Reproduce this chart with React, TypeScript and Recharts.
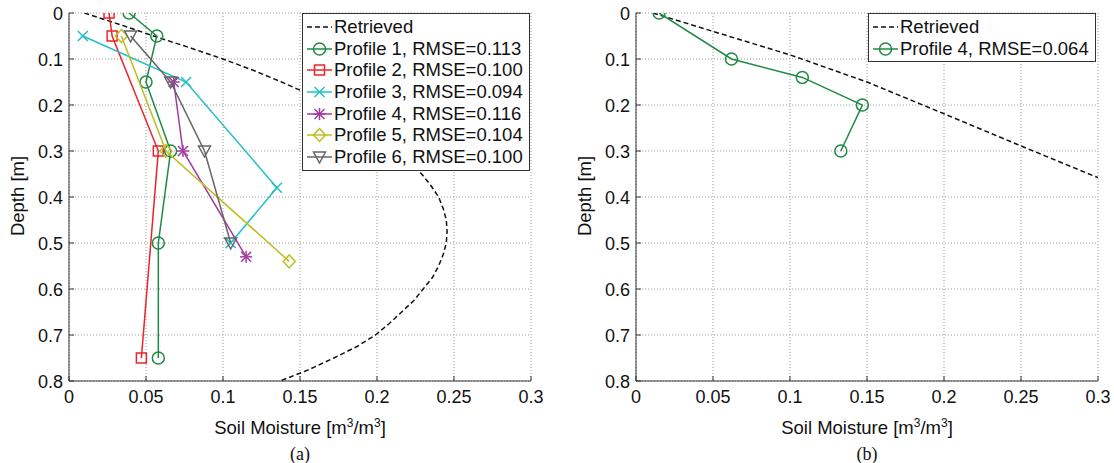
import React from "react";
import { ScatterChart, Scatter, XAxis, YAxis, CartesianGrid } from "recharts";

// ---- values (moisture in m3/m3, depth in m) ----
const xTicks = [0, 0.05, 0.1, 0.15, 0.2, 0.25, 0.3];
const yTicks = [0, 0.1, 0.2, 0.3, 0.4, 0.5, 0.6, 0.7, 0.8];

// (a) retrieved profile
const retrievedADepth = [
  0, 0.025, 0.05, 0.075, 0.1, 0.125, 0.15, 0.175, 0.2, 0.225, 0.25, 0.275, 0.3, 0.325, 0.35, 0.375, 0.4,
  0.425, 0.45, 0.475, 0.5, 0.525, 0.55, 0.575, 0.6, 0.625, 0.65, 0.675, 0.7, 0.725, 0.75, 0.775, 0.8,
];
const retrievedAMoisture = [
  0.01, 0.033, 0.055, 0.078, 0.1, 0.12, 0.138, 0.155, 0.17, 0.183, 0.195, 0.205, 0.214, 0.222, 0.229, 0.235, 0.24,
  0.243, 0.245, 0.2455, 0.245, 0.243, 0.24, 0.236, 0.23, 0.224, 0.216, 0.208, 0.199, 0.187, 0.172, 0.156, 0.137,
];

const p1Depth = [0, 0.05, 0.15, 0.3, 0.5, 0.75];
const p1Moisture = [0.039, 0.057, 0.05, 0.066, 0.058, 0.058];
const p2Depth = [0, 0.05, 0.3, 0.75];
const p2Moisture = [0.026, 0.028, 0.058, 0.047];
const p3Depth = [0.05, 0.15, 0.38, 0.5];
const p3Moisture = [0.009, 0.076, 0.135, 0.105];
const p4Depth = [0.15, 0.3, 0.53];
const p4Moisture = [0.068, 0.074, 0.115];
const p5Depth = [0.05, 0.3, 0.54];
const p5Moisture = [0.034, 0.063, 0.143];
const p6Depth = [0.05, 0.15, 0.3, 0.5];
const p6Moisture = [0.04, 0.066, 0.088, 0.105];

// (b) retrieved profile and profile 4
const retrievedBDepth = [0, 0.04, 0.091, 0.15, 0.219, 0.289, 0.358];
const retrievedBMoisture = [0.011, 0.05, 0.1, 0.15, 0.2, 0.25, 0.3];
const bP4Depth = [0, 0.1, 0.14, 0.2, 0.3];
const bP4Moisture = [0.015, 0.062, 0.108, 0.147, 0.133];

const zip = (xs: number[], ys: number[]) => xs.map((x, i) => ({ x, y: ys[i] }));

type Kind = "none" | "circle" | "square" | "x" | "star" | "diamond" | "tri";

const marker = (kind: Kind, cx: number, cy: number, c: string) => {
  const sw = 1.5;
  switch (kind) {
    case "circle":
      return <circle cx={cx} cy={cy} r={6} fill="none" stroke={c} strokeWidth={sw} />;
    case "square":
      return <rect x={cx - 5} y={cy - 5} width={10} height={10} fill="none" stroke={c} strokeWidth={sw} />;
    case "x":
      return (
        <g stroke={c} strokeWidth={sw}>
          <line x1={cx - 5} y1={cy - 5} x2={cx + 5} y2={cy + 5} />
          <line x1={cx - 5} y1={cy + 5} x2={cx + 5} y2={cy - 5} />
        </g>
      );
    case "star":
      return (
        <g stroke={c} strokeWidth={sw}>
          <line x1={cx - 5} y1={cy - 5} x2={cx + 5} y2={cy + 5} />
          <line x1={cx - 5} y1={cy + 5} x2={cx + 5} y2={cy - 5} />
          <line x1={cx} y1={cy - 6} x2={cx} y2={cy + 6} />
          <line x1={cx - 6} y1={cy} x2={cx + 6} y2={cy} />
        </g>
      );
    case "diamond":
      return (
        <polygon
          points={`${cx},${cy - 6.5} ${cx + 6},${cy} ${cx},${cy + 6.5} ${cx - 6},${cy}`}
          fill="none"
          stroke={c}
          strokeWidth={sw}
        />
      );
    case "tri":
      return (
        <polygon
          points={`${cx - 6},${cy - 5} ${cx + 6},${cy - 5} ${cx},${cy + 6}`}
          fill="none"
          stroke={c}
          strokeWidth={sw}
        />
      );
    default:
      return <g />;
  }
};

interface Series {
  name: string;
  data: { x: number; y: number }[];
  color: string;
  kind: Kind;
  dash?: string;
}

const seriesA: Series[] = [
  { name: "Retrieved", data: zip(retrievedAMoisture, retrievedADepth), color: "#111", kind: "none", dash: "5 3" },
  { name: "Profile 1, RMSE=0.113", data: zip(p1Moisture, p1Depth), color: "#1f8a45", kind: "circle" },
  { name: "Profile 2, RMSE=0.100", data: zip(p2Moisture, p2Depth), color: "#ec2328", kind: "square" },
  { name: "Profile 3, RMSE=0.094", data: zip(p3Moisture, p3Depth), color: "#22bfc6", kind: "x" },
  { name: "Profile 4, RMSE=0.116", data: zip(p4Moisture, p4Depth), color: "#a43ba3", kind: "star" },
  { name: "Profile 5, RMSE=0.104", data: zip(p5Moisture, p5Depth), color: "#bdbd22", kind: "diamond" },
  { name: "Profile 6, RMSE=0.100", data: zip(p6Moisture, p6Depth), color: "#666", kind: "tri" },
];

const seriesB: Series[] = [
  { name: "Retrieved", data: zip(retrievedBMoisture, retrievedBDepth), color: "#111", kind: "none", dash: "5 3" },
  { name: "Profile 4, RMSE=0.064", data: zip(bP4Moisture, bP4Depth), color: "#1f8a45", kind: "circle" },
];

const FONT = "Liberation Sans, Arial, Helvetica, sans-serif";

const XTick = (p: any) => (
  <text x={p.x} y={p.y} dy={17} textAnchor="middle" fontSize={18} fontFamily={FONT} fill="#111">
    {String(p.payload.value)}
  </text>
);

const YTick = (p: any) => (
  <text x={p.x} y={p.y} dy={6.5} textAnchor="end" fontSize={18} fontFamily={FONT} fill="#111">
    {String(p.payload.value)}
  </text>
);

const Panel = ({
  left,
  yAxisWidth,
  series,
  legend,
  caption,
  yLabelX,
}: {
  left: number;
  yAxisWidth: number;
  series: Series[];
  legend: { left: number; width: number };
  caption: string;
  yLabelX: number;
}) => {
  const plotLeft = left + yAxisWidth;
  const plotW = 462;
  const center = plotLeft + plotW / 2;
  return (
    <>
      <div style={{ position: "absolute", left, top: 0 }}>
        <ScatterChart
          width={yAxisWidth + plotW + 20}
          height={463}
          margin={{ top: 13, right: 20, left: 0, bottom: 0 }}
        >
          <CartesianGrid stroke="#9a9a9a" strokeDasharray="1 2" xAxisId="b" yAxisId="l" />
          <XAxis
            xAxisId="b"
            type="number"
            dataKey="x"
            domain={[0, 0.3]}
            ticks={xTicks}
            allowDataOverflow
            height={82}
            tickSize={-5}
            tickMargin={10}
            tick={<XTick />}
            stroke="#333"
            interval={0}
          />
          <XAxis
            xAxisId="t"
            orientation="top"
            type="number"
            domain={[0, 0.3]}
            ticks={xTicks}
            height={0}
            tickSize={-5}
            tick={false}
            stroke="#333"
          />
          <YAxis
            yAxisId="l"
            type="number"
            dataKey="y"
            domain={[0, 0.8]}
            ticks={yTicks}
            reversed
            allowDataOverflow
            width={yAxisWidth}
            tickSize={-5}
            tickMargin={11}
            tick={<YTick />}
            stroke="#333"
            interval={0}
          />
          <YAxis
            yAxisId="r"
            orientation="right"
            type="number"
            domain={[0, 0.8]}
            ticks={yTicks}
            reversed
            width={0}
            tickSize={-5}
            tick={false}
            stroke="#333"
          />
          {series.map((s) => (
            <Scatter
              key={s.name}
              name={s.name}
              data={s.data}
              xAxisId="b"
              yAxisId="l"
              fill={s.color}
              line={{ stroke: s.color, strokeWidth: 1.5, strokeDasharray: s.dash }}
              lineType="joint"
              isAnimationActive={false}
              shape={(p: any) => marker(s.kind, p.cx, p.cy, s.color)}
            />
          ))}
        </ScatterChart>
      </div>
      {/* legend box */}
      <div
        style={{
          position: "absolute",
          left: legend.left,
          top: 13,
          width: legend.width,
          background: "#fff",
          border: "1px solid #333",
          padding: "2px 0 2px 0",
          fontFamily: FONT,
          fontSize: 18.5,
          color: "#111",
        }}
      >
        {series.map((s) => (
          <div key={s.name} style={{ display: "flex", alignItems: "center", height: 21.7 }}>
            <svg width={31} height={20} style={{ flex: "none" }}>
              <line x1={4} y1={10} x2={29} y2={10} stroke={s.color} strokeWidth={1.5} strokeDasharray={s.dash} />
              {marker(s.kind, 16.5, 10, s.color)}
            </svg>
            <span style={{ whiteSpace: "nowrap", lineHeight: "20px" }}>{s.name}</span>
          </div>
        ))}
      </div>
      {/* axis titles */}
      <div
        style={{
          position: "absolute",
          left: yLabelX - 60,
          top: 196 - 11,
          width: 120,
          height: 22,
          textAlign: "center",
          transform: "rotate(-90deg)",
          fontFamily: FONT,
          fontSize: 18.5,
          lineHeight: "22px",
          color: "#111",
        }}
      >
        Depth [m]
      </div>
      <div
        style={{
          position: "absolute",
          left: center - 150,
          top: 417,
          width: 300,
          textAlign: "center",
          fontFamily: FONT,
          fontSize: 18.5,
          lineHeight: "22px",
          color: "#111",
        }}
      >
        Soil Moisture [m<sup style={{ fontSize: 12, verticalAlign: "7px", lineHeight: 0 }}>3</sup>/m
        <sup style={{ fontSize: 12, verticalAlign: "7px", lineHeight: 0 }}>3</sup>]
      </div>
      <div
        style={{
          position: "absolute",
          left: center - 50,
          top: 445,
          width: 100,
          textAlign: "center",
          fontFamily: "Liberation Serif, 'Times New Roman', serif",
          fontSize: 18,
          lineHeight: "18px",
          color: "#111",
        }}
      >
        {caption}
      </div>
    </>
  );
};

export default function App() {
  return (
    <div style={{ position: "absolute", left: 0, top: 0, width: 1114, height: 463, background: "#fff", overflow: "hidden" }}>
      <Panel left={0} yAxisWidth={69} series={seriesA} legend={{ left: 302, width: 226 }} caption="(a)" yLabelX={18} />
      <Panel left={560} yAxisWidth={76} series={seriesB} legend={{ left: 868, width: 226 }} caption="(b)" yLabelX={585} />
    </div>
  );
}
